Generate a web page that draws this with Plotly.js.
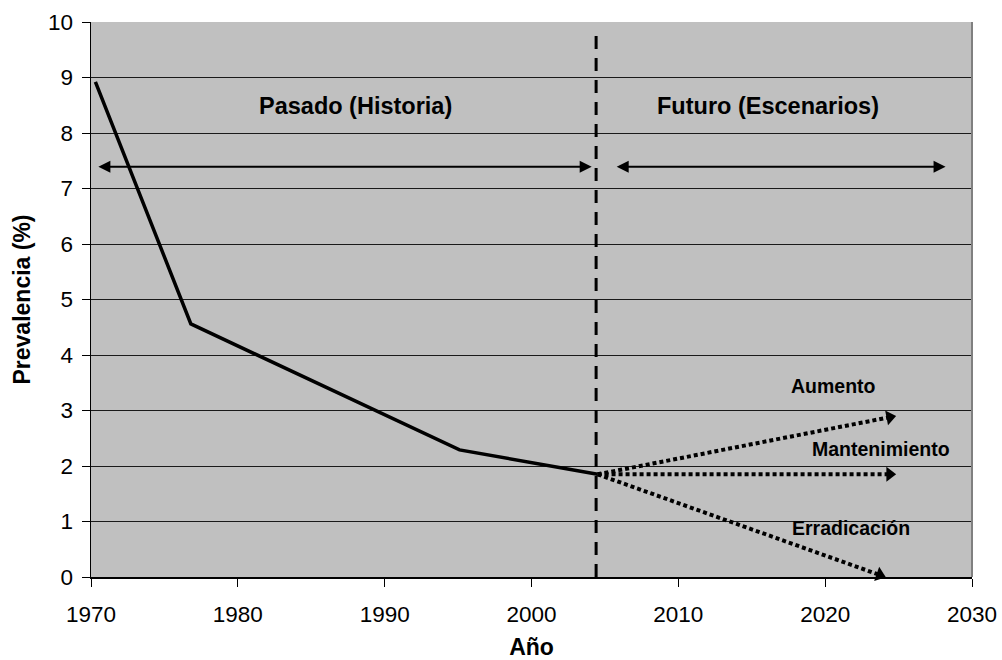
<!DOCTYPE html>
<html>
<head>
<meta charset="utf-8">
<script src="https://cdn.plot.ly/plotly-3.0.1.min.js"></script>
<style>
  html, body { margin: 0; padding: 0; background: #ffffff; }
  #chart { width: 1002px; height: 660px; }
</style>
</head>
<body>
<div id="chart"></div>
<script>
// Historical prevalence (%) by year
const histYears = [1970.3, 1976.8, 1995.1, 2004.5];
const histValues = [8.92, 4.56, 2.29, 1.85];

// Future scenarios: start at the last observed point, end at the projected value
const scenarioNames = ['Aumento', 'Mantenimiento', 'Erradicación'];
const scenarioStartYear = 2004.5;
const scenarioStartValue = 1.85;
const scenarioEndYears = [2024.8, 2024.8, 2024.1];
const scenarioEndValues = [2.9, 1.85, 0.0];

// Scenario label anchors [year, value]
const scenarioLabelYears = [2020.55, 2023.77, 2021.73];
const scenarioLabelValues = [3.44, 2.31, 0.88];

// Present-day divider
const dividerYear = 2004.4;
const dividerRange = [0, 9.75];

// Period spans (double-headed arrows) and headings
const periodNames = ['Pasado (Historia)', 'Futuro (Escenarios)'];
const periodFrom = [1970.4, 2005.7];
const periodTo = [2004.1, 2028.2];
const periodArrowValue = 7.39;
const periodLabelYears = [1988.0, 2016.1];
const periodLabelValue = 8.48;

const yTicks = [0, 1, 2, 3, 4, 5, 6, 7, 8, 9, 10];
const xTicks = [1970, 1980, 1990, 2000, 2010, 2020, 2030];

const FONT = 'Arial, "Liberation Sans", sans-serif';

const traces = [];

// Divider
traces.push({
  x: [dividerYear, dividerYear],
  y: dividerRange,
  mode: 'lines',
  line: { color: '#000000', width: 3, dash: '13px,9px' },
  hoverinfo: 'skip',
  showlegend: false,
  cliponaxis: false
});

// Scenario projections (dotted with arrow tips)
scenarioNames.forEach((name, i) => {
  traces.push({
    x: [scenarioStartYear, scenarioEndYears[i]],
    y: [scenarioStartValue, scenarioEndValues[i]],
    mode: 'lines+markers',
    name: name,
    line: { color: '#000000', width: 4, dash: '4px,3px' },
    marker: {
      symbol: 'triangle-up',
      angleref: 'previous',
      size: [0, 13],
      standoff: 6,
      color: '#000000',
      opacity: 1,
      line: { width: 0 }
    },
    hoverinfo: 'skip',
    showlegend: false,
    cliponaxis: false
  });
});

// Historical series
traces.push({
  x: histYears,
  y: histValues,
  mode: 'lines',
  line: { color: '#000000', width: 3.5 },
  hoverinfo: 'skip',
  showlegend: false
});

const annotations = [];

// Period spans
periodNames.forEach((name, i) => {
  annotations.push({
    x: periodTo[i], y: periodArrowValue,
    ax: periodFrom[i], ay: periodArrowValue,
    xref: 'x', yref: 'y', axref: 'x', ayref: 'y',
    showarrow: true,
    arrowhead: 2, startarrowhead: 2,
    arrowside: 'end+start',
    arrowsize: 1.2, startarrowsize: 1.2,
    arrowwidth: 2,
    arrowcolor: '#000000',
    text: ''
  });
  annotations.push({
    x: periodLabelYears[i], y: periodLabelValue,
    xref: 'x', yref: 'y',
    showarrow: false,
    text: '<b>' + name + '</b>',
    font: { family: FONT, size: 23.5, color: '#000000' }
  });
});

// Scenario labels
scenarioNames.forEach((name, i) => {
  annotations.push({
    x: scenarioLabelYears[i], y: scenarioLabelValues[i],
    xref: 'x', yref: 'y',
    showarrow: false,
    text: '<b>' + name + '</b>',
    font: { family: FONT, size: 19.5, color: '#000000' }
  });
});

const layout = {
  width: 1002,
  height: 660,
  margin: { l: 91, r: 30, t: 22, b: 83 },
  paper_bgcolor: '#ffffff',
  plot_bgcolor: '#c0c0c0',
  font: { family: FONT, color: '#000000', size: 22.5 },
  xaxis: {
    range: [1970, 2030],
    tickvals: xTicks,
    ticktext: xTicks.map(String),
    ticks: 'outside',
    ticklen: 8,
    tickwidth: 1,
    tickcolor: '#000000',
    showgrid: false,
    zeroline: false,
    showline: true,
    linecolor: '#000000',
    linewidth: 1.5,
    tickfont: { family: FONT, size: 22.5, color: '#000000' },
    ticklabelstandoff: 8,
    title: { text: '<b>Año</b>', font: { family: FONT, size: 23, color: '#000000' }, standoff: 18 },
    fixedrange: true
  },
  yaxis: {
    range: [0, 10],
    tickvals: yTicks,
    ticktext: yTicks.map(String),
    ticks: 'outside',
    ticklen: 8,
    tickwidth: 1,
    tickcolor: '#000000',
    showgrid: true,
    gridcolor: '#1a1a1a',
    gridwidth: 1,
    zeroline: false,
    showline: true,
    linecolor: '#000000',
    linewidth: 1.5,
    tickfont: { family: FONT, size: 22.5, color: '#000000' },
    ticklabelstandoff: 4,
    title: { text: '<b>Prevalencia (%)</b>', font: { family: FONT, size: 23, color: '#000000' }, standoff: 11 },
    fixedrange: true
  },
  shapes: [
    {
      type: 'line', xref: 'paper', yref: 'paper',
      x0: 1, x1: 1, y0: 0, y1: 1,
      line: { color: '#808080', width: 2 }
    }
  ],
  annotations: annotations,
  showlegend: false
};

Plotly.newPlot('chart', traces, layout, { displayModeBar: false, staticPlot: true });
</script>
</body>
</html>
